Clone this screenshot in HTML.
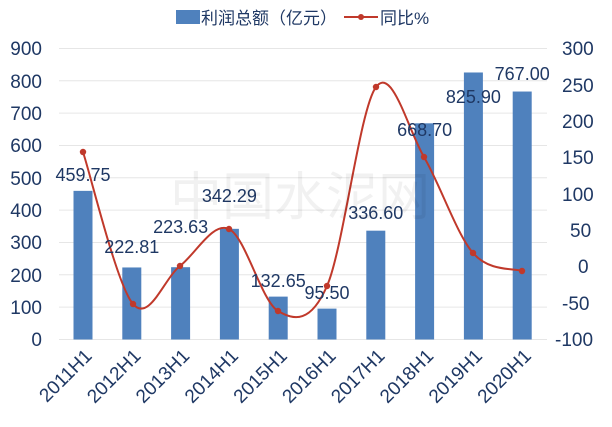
<!DOCTYPE html>
<html><head><meta charset="utf-8"><style>
body{margin:0;background:#fff}
svg text{font-family:"Liberation Sans","Noto Sans CJK SC",sans-serif;fill:#1f3864}
</style></head><body>
<svg id="s" width="612" height="422" xmlns="http://www.w3.org/2000/svg">
<rect width="612" height="422" fill="#fff"/>
<g stroke="#e6e6e6" stroke-width="1">
<line x1="59" x2="547" y1="48.5" y2="48.5"/><line x1="59" x2="547" y1="80.8" y2="80.8"/><line x1="59" x2="547" y1="113.1" y2="113.1"/><line x1="59" x2="547" y1="145.5" y2="145.5"/><line x1="59" x2="547" y1="177.8" y2="177.8"/><line x1="59" x2="547" y1="210.1" y2="210.1"/><line x1="59" x2="547" y1="242.5" y2="242.5"/><line x1="59" x2="547" y1="274.8" y2="274.8"/><line x1="59" x2="547" y1="307.1" y2="307.1"/><line x1="59" x2="547" y1="339.5" y2="339.5"/>
</g>
<g font-size="19" text-anchor="end">
<text x="42" y="55">900</text><text x="42" y="88">800</text><text x="42" y="120">700</text><text x="42" y="152">600</text><text x="42" y="185">500</text><text x="42" y="217">400</text><text x="42" y="249">300</text><text x="42" y="282">200</text><text x="42" y="314">100</text><text x="42" y="346">0</text>
</g>
<g font-size="19" text-anchor="start">
<text x="562" y="55">300</text><text x="562" y="92">250</text><text x="562" y="128">200</text><text x="562" y="164">150</text><text x="562" y="201">100</text><text x="570" y="237">50</text><text x="578" y="273">0</text><text x="562" y="310">-50</text><text x="555" y="346">-100</text>
</g>
<g id="bars" fill="#4f81bd"></g>
<path id="ln" fill="none" stroke="#c0392b" stroke-width="2"/>
<g id="dots" fill="#c0392b"></g>
<g id="lbl" font-size="18" text-anchor="middle"></g>
<g id="xl" font-size="19" text-anchor="end"></g>
<rect x="176" y="10" width="24" height="14" fill="#4f81bd"/>
<text x="201" y="24" font-size="17">利润总额（亿元）</text>
<line x1="344" x2="378" y1="17" y2="17" stroke="#c0392b" stroke-width="2"/>
<circle cx="361" cy="17" r="3" fill="#c0392b"/>
<text x="380" y="24" font-size="17">同比%</text>
<text x="300" y="215" font-size="52" text-anchor="middle" style="fill:#000;opacity:0.05">中国水泥网</text>
</svg>
<script>
var vals=[459.75,222.81,223.63,342.29,132.65,95.50,336.60,668.70,825.90,767.00];
var lab=["459.75","222.81","223.63","342.29","132.65","95.50","336.60","668.70","825.90","767.00"];
var ly=[181,253,233,202,287,299,219,136,103,80];
var pts=[[83,152],[133,304],[180,266],[229,229],[278,311],[327,286],[376,87],[424,157],[473,253],[522,271]];
var ns="http://www.w3.org/2000/svg";
function el(t,a,p){var e=document.createElementNS(ns,t);for(var k in a)e.setAttribute(k,a[k]);document.getElementById(p).appendChild(e);return e;}
for(var i=0;i<10;i++){var cx=83+48.8*i,h=vals[i]*0.3233;
el("rect",{x:cx-9.5,y:339.5-h,width:19,height:h},"bars");
var t=el("text",{x:cx,y:ly[i]},"lbl");t.textContent=lab[i];
var ax=cx+10,ay=357;
var x=el("text",{x:ax,y:ay,transform:"rotate(-45 "+ax+" "+ay+")"},"xl");x.textContent=(2011+i)+"H1";
el("circle",{cx:pts[i][0],cy:pts[i][1],r:3.2},"dots");}
var d="M"+pts[0];
for(var i=0;i<9;i++){var p0=pts[Math.max(i-1,0)],p1=pts[i],p2=pts[i+1],p3=pts[Math.min(i+2,9)];
var c1=[p1[0]+(p2[0]-p0[0])/6,p1[1]+(p2[1]-p0[1])/6],c2=[p2[0]-(p3[0]-p1[0])/6,p2[1]-(p3[1]-p1[1])/6];
d+=" C"+c1+" "+c2+" "+p2;}
document.getElementById("ln").setAttribute("d",d);
</script>
</body></html>
